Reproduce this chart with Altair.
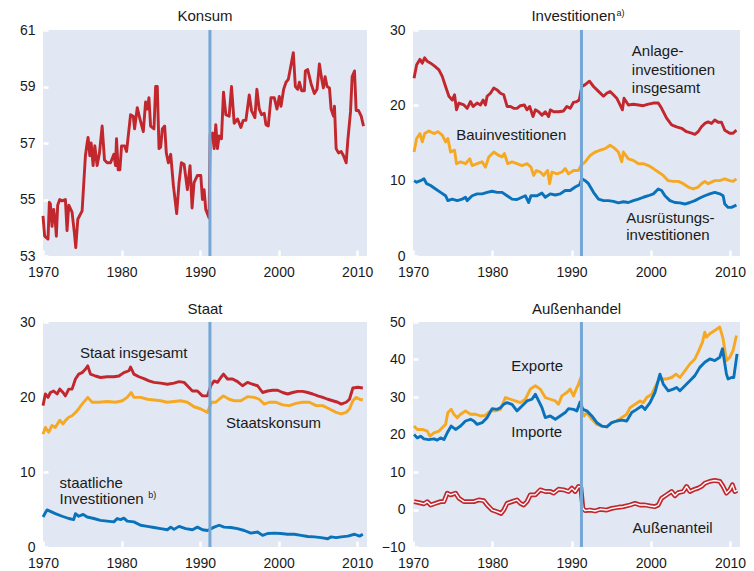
import altair as alt
import pandas as pd

FONT = "Liberation Sans"
BG = "#e1e8f3"
RED = "#c1272d"
ORANGE = "#f7a823"
BLUE = "#0a72ba"
VLINE = "#74a7d5"
TXT = "#1a1a1a"

# ---------------- Konsum ----------------
konsum_year = [1970.0, 1970.21, 1970.64, 1970.81, 1970.94, 1971.15, 1971.36, 1971.57, 1971.70, 1971.87,
               1972.13, 1972.43, 1972.85, 1973.06, 1973.28, 1973.70, 1974.0, 1974.17, 1974.43, 1974.98,
               1975.40, 1975.62, 1975.74, 1975.96, 1976.13, 1976.38, 1976.60, 1976.89, 1977.19, 1977.53,
               1977.83, 1978.17, 1978.60, 1979.02, 1979.23, 1979.36, 1979.57, 1979.79, 1980.0, 1980.38,
               1980.64, 1981.15, 1981.49, 1981.66, 1982.0, 1982.34, 1982.77, 1983.06, 1983.28, 1983.49,
               1983.70, 1984.13, 1984.34, 1984.55, 1984.77, 1984.98, 1985.19, 1985.49, 1985.70, 1985.96,
               1986.26, 1986.60, 1987.02, 1987.32, 1987.62, 1987.96, 1988.38, 1988.72, 1988.98, 1989.23,
               1989.66, 1990.09, 1990.30, 1990.51, 1990.72, 1991.15, 1991.28, 1991.57, 1991.79, 1992.0,
               1992.21, 1992.43, 1992.72, 1992.98, 1993.28, 1993.70, 1994.0, 1994.34, 1994.77, 1995.19,
               1995.49, 1995.83, 1996.26, 1996.55, 1996.98, 1997.23, 1997.53, 1997.83, 1998.17, 1998.38,
               1998.68, 1999.02, 1999.45, 1999.79, 2000.09, 2000.30, 2000.64, 2000.94, 2001.23, 2001.57,
               2001.87, 2002.13, 2002.43, 2002.64, 2002.94, 2003.28, 2003.40, 2003.70, 2004.13, 2004.55,
               2004.89, 2005.19, 2005.49, 2005.70, 2005.91, 2006.17, 2006.47, 2006.68, 2006.98, 2007.11,
               2007.32, 2007.62, 2007.96, 2008.26, 2008.60, 2008.81, 2009.15, 2009.36, 2009.66, 2009.87,
               2010.17, 2010.51, 2010.81]
konsum_val = [54.42, 53.7, 53.6, 54.9, 54.85, 54.05, 54.65, 54.2, 53.7, 54.8,
              55.0, 54.95, 55.0, 53.9, 54.8, 54.55, 53.8, 53.3, 54.3, 54.6,
              56.55, 57.0, 57.2, 56.55, 57.0, 56.2, 56.9, 56.2, 56.65, 57.6,
              56.4, 56.3, 56.3, 56.6, 56.2, 57.15, 56.05, 56.05, 56.9, 56.9,
              56.7, 58.0, 57.95, 57.5, 58.25, 57.85, 57.4, 58.45, 58.2, 58.6,
              57.6, 57.5, 59.0, 59.0, 56.8, 56.85, 57.5, 57.6, 56.65, 56.3,
              56.6, 55.5, 54.5, 55.6, 56.3, 56.25, 55.35, 56.2, 54.7, 55.6,
              55.85, 55.85, 55.0, 55.35, 54.65, 54.35, 57.3, 57.35, 56.8, 57.65,
              56.8, 57.25, 57.15, 58.8, 58.0, 57.95, 59.0, 57.7, 57.85, 57.55,
              57.8, 57.8, 58.7, 58.15, 57.9, 58.9, 58.2, 58.0, 58.05, 57.65,
              57.6, 58.6, 58.6, 58.2, 58.65, 58.3, 58.9, 59.15, 59.25, 59.75,
              60.2, 59.0, 58.9, 59.15, 58.85, 58.85, 59.55, 59.6, 59.1, 58.75,
              58.9, 59.8, 59.25, 58.95, 59.35, 59.0, 58.95, 58.2, 57.95, 58.3,
              56.8, 56.65, 56.7, 56.55, 56.3, 57.1, 58.1, 59.35, 59.55, 58.15,
              58.15, 57.95, 57.6]

# ---------------- Investitionen ----------------
anlage_year = [1970.13, 1970.46, 1970.88, 1971.17, 1971.47, 1971.80, 1972.22, 1972.73, 1973.27, 1973.69,
               1974.11, 1974.53, 1974.95, 1975.24, 1975.49, 1975.79, 1976.42, 1976.83, 1977.25, 1977.59,
               1978.09, 1978.51, 1978.85, 1979.14, 1979.35, 1979.77, 1980.19, 1980.61, 1981.03, 1981.45,
               1981.87, 1982.29, 1982.70, 1983.12, 1983.54, 1984.05, 1984.38, 1984.72, 1985.14, 1985.43,
               1985.85, 1986.27, 1986.69, 1987.11, 1987.32, 1987.74, 1988.36, 1988.99, 1989.41, 1989.83,
               1990.25, 1990.67, 1990.96, 1991.30, 1991.72, 1992.26, 1992.77, 1993.40, 1994.03, 1994.44,
               1994.86, 1995.28, 1995.70, 1996.12, 1996.42, 1996.62, 1997.17, 1997.80, 1998.43, 1999.06,
               1999.69, 2000.32, 2000.94, 2001.36, 2001.99, 2002.62, 2003.25, 2003.88, 2004.51, 2005.14,
               2005.56, 2005.97, 2006.39, 2006.81, 2007.23, 2007.65, 2008.07, 2008.49, 2008.91, 2009.33,
               2009.96, 2010.38, 2010.80]
anlage_val = [23.6, 25.4, 26.1, 25.6, 26.3, 25.85, 25.6, 25.2, 24.7, 23.85,
              22.5, 21.2, 20.7, 21.4, 19.4, 20.3, 20.05, 19.6, 20.5, 19.85,
              20.3, 20.05, 20.7, 20.05, 21.2, 21.6, 22.3, 22.05, 21.6, 21.4,
              19.85, 19.85, 19.6, 19.6, 19.95, 20.05, 19.4, 19.85, 18.5, 19.4,
              19.15, 18.7, 19.15, 18.5, 19.4, 19.15, 19.15, 19.25, 19.85, 19.6,
              20.4, 20.5, 20.7, 22.5, 22.75, 23.2, 22.5, 21.85, 21.2, 21.6,
              21.85, 21.4, 20.95, 20.05, 19.4, 20.95, 20.05, 20.15, 20.05, 19.95,
              20.15, 20.3, 20.3, 19.6, 18.3, 17.4, 17.15, 16.95, 16.5, 16.3,
              16.15, 16.5, 17.15, 17.6, 17.8, 17.6, 18.05, 17.75, 17.75, 16.7,
              16.3, 16.3, 16.7]

bau_year = [1970.13, 1970.46, 1970.88, 1971.17, 1971.47, 1972.01, 1972.64, 1973.14, 1973.69, 1974.11,
            1974.40, 1974.74, 1975.24, 1975.49, 1976.0, 1976.62, 1977.17, 1977.46, 1978.09, 1978.72,
            1979.14, 1979.56, 1980.19, 1980.82, 1981.24, 1981.53, 1981.95, 1982.49, 1983.12, 1983.75,
            1984.38, 1984.88, 1985.22, 1985.56, 1986.06, 1986.48, 1986.98, 1987.23, 1987.53, 1988.16,
            1988.78, 1989.20, 1989.62, 1990.25, 1990.88, 1991.17, 1991.72, 1992.35, 1992.98, 1993.61,
            1994.24, 1994.86, 1995.37, 1995.91, 1996.33, 1996.54, 1997.17, 1997.80, 1998.43, 1999.06,
            1999.69, 2000.32, 2000.94, 2001.57, 2002.20, 2002.83, 2003.46, 2004.09, 2004.72, 2005.35,
            2005.97, 2006.39, 2006.81, 2007.23, 2007.65, 2008.07, 2008.70, 2009.33, 2009.96, 2010.38,
            2010.80]
bau_val = [13.8, 15.6, 16.25, 15.15, 16.25, 16.6, 16.25, 16.5, 16.05, 15.15,
           15.6, 13.8, 14.05, 12.25, 12.5, 12.25, 12.9, 12.0, 12.25, 12.5,
           11.8, 13.15, 13.8, 13.35, 13.15, 13.6, 12.25, 12.5, 12.25, 12.0,
           12.25, 11.8, 10.7, 11.35, 11.15, 10.7, 11.35, 9.6, 11.15, 10.9,
           11.15, 11.6, 10.9, 11.35, 11.35, 12.0, 12.5, 13.35, 13.8, 14.05,
           14.25, 14.7, 14.35, 13.8, 12.5, 13.8, 12.9, 12.7, 12.25, 12.25,
           12.0, 11.6, 11.15, 10.7, 10.0, 9.9, 9.9, 9.6, 9.15, 8.9,
           9.15, 9.6, 9.9, 9.6, 9.8, 10.0, 10.0, 10.25, 10.0, 9.9,
           10.25]

ausr_year = [1970.13, 1970.46, 1970.96, 1971.38, 1971.72, 1972.22, 1972.85, 1973.48, 1974.11, 1974.40,
             1974.95, 1975.58, 1976.21, 1976.62, 1976.83, 1977.46, 1978.09, 1978.72, 1979.35, 1979.98,
             1980.61, 1981.24, 1981.87, 1982.49, 1983.12, 1983.75, 1984.17, 1984.59, 1984.88, 1985.64,
             1986.27, 1986.69, 1987.32, 1987.95, 1988.57, 1989.20, 1989.83, 1990.46, 1991.01, 1991.30,
             1991.72, 1992.14, 1992.77, 1993.40, 1994.03, 1994.65, 1995.28, 1995.91, 1996.54, 1997.17,
             1997.80, 1998.43, 1999.06, 1999.69, 2000.32, 2000.94, 2001.36, 2001.78, 2002.41, 2003.04,
             2003.67, 2004.30, 2004.93, 2005.56, 2006.18, 2006.81, 2007.44, 2008.07, 2008.70, 2009.12,
             2009.33, 2009.75, 2010.17, 2010.80]
ausr_val = [10.0, 9.8, 10.0, 10.25, 9.6, 9.35, 8.9, 8.45, 8.0, 7.35,
            7.55, 7.35, 7.55, 7.8, 7.35, 8.0, 8.25, 8.25, 8.45, 8.6,
            8.45, 8.45, 8.0, 7.55, 7.5, 7.8, 8.0, 7.1, 8.0, 8.0,
            8.35, 7.8, 8.25, 8.1, 8.25, 8.7, 8.7, 9.15, 9.45, 10.25,
            10.0, 9.6, 8.45, 7.55, 7.35, 7.35, 7.25, 7.05, 7.2, 7.1,
            7.35, 7.55, 7.8, 8.0, 8.25, 8.9, 8.7, 8.0, 7.35, 7.1,
            7.05, 6.9, 7.1, 7.35, 7.7, 8.0, 8.25, 8.45, 8.25, 8.0,
            6.9, 6.45, 6.45, 6.75]

# ---------------- Staat ----------------
staat_year = [1970.0, 1970.30, 1970.64, 1970.94, 1971.36, 1971.79, 1972.13, 1972.55, 1972.85, 1973.28,
              1973.70, 1974.13, 1974.55, 1974.98, 1975.40, 1975.70, 1976.04, 1976.68, 1977.32, 1978.17,
              1979.02, 1979.66, 1980.30, 1980.94, 1981.15, 1981.57, 1982.21, 1982.85, 1983.49, 1984.13,
              1984.98, 1985.83, 1986.68, 1987.32, 1987.96, 1988.38, 1989.02, 1989.66, 1990.30, 1990.94,
              1991.36, 1991.79, 1992.21, 1992.64, 1992.98, 1993.49, 1994.13, 1994.77, 1995.40, 1996.04,
              1996.68, 1997.32, 1997.96, 1998.60, 1999.23, 1999.87, 2000.51, 2001.15, 2001.79, 2002.43,
              2003.06, 2003.70, 2004.34, 2004.98, 2005.62, 2006.26, 2006.89, 2007.53, 2007.96, 2008.60,
              2009.02, 2009.45, 2010.09, 2010.72]
staat_val = [18.85, 20.4, 19.95, 20.6, 20.8, 20.4, 21.05, 20.6, 20.15, 21.05,
             21.05, 22.4, 23.05, 23.25, 23.7, 24.15, 23.05, 22.8, 22.6, 22.7,
             22.7, 22.8, 23.25, 23.5, 24.0, 23.05, 22.7, 22.45, 22.15, 21.95,
             21.85, 21.7, 21.85, 22.05, 21.95, 21.5, 20.8, 20.8, 20.15, 20.15,
             21.5, 22.15, 21.95, 22.6, 23.05, 22.4, 22.4, 22.05, 21.5, 21.95,
             21.7, 21.5, 20.6, 20.8, 20.9, 20.9, 20.6, 20.4, 20.6, 20.75,
             20.75, 20.6, 20.4, 20.15, 19.95, 19.7, 19.5, 19.3, 19.05, 19.3,
             19.7, 21.2, 21.3, 21.2]

skons_year = [1970.0, 1970.30, 1970.72, 1971.15, 1971.57, 1972.13, 1972.55, 1972.85, 1973.28, 1973.70,
              1974.34, 1974.98, 1975.70, 1976.26, 1977.11, 1978.17, 1979.23, 1980.09, 1980.72, 1981.23,
              1981.57, 1982.43, 1983.28, 1984.13, 1984.98, 1985.83, 1986.68, 1987.53, 1988.38, 1989.23,
              1990.09, 1990.94, 1991.45, 1992.0, 1992.43, 1992.98, 1993.70, 1994.34, 1995.19, 1996.04,
              1996.89, 1997.53, 1998.17, 1998.81, 1999.66, 2000.51, 2001.36, 2002.21, 2003.06, 2003.91,
              2004.77, 2005.62, 2006.47, 2007.32, 2007.96, 2008.60, 2009.02, 2009.45, 2009.87, 2010.30,
              2010.72]
skons_val = [15.05, 15.95, 15.3, 16.2, 15.95, 16.9, 16.4, 16.85, 17.3, 17.5,
             18.15, 19.05, 19.95, 19.3, 19.3, 19.4, 19.3, 19.5, 19.95, 20.6,
             19.95, 19.95, 19.7, 19.6, 19.5, 19.3, 19.4, 19.5, 19.3, 18.7,
             18.4, 17.95, 19.3, 19.3, 19.7, 20.15, 19.7, 19.5, 19.5, 20.05,
             19.95, 19.7, 19.05, 19.3, 19.3, 18.95, 18.85, 19.15, 19.3, 19.3,
             18.85, 18.85, 18.4, 17.95, 17.75, 17.95, 18.4, 19.5, 19.95, 19.7,
             19.6]

sinv_year = [1970.0, 1970.51, 1970.94, 1971.57, 1972.43, 1973.28, 1973.91, 1974.13, 1974.55, 1975.11,
             1975.62, 1976.47, 1977.32, 1978.17, 1979.02, 1979.45, 1979.87, 1980.30, 1980.72, 1981.57,
             1982.43, 1983.28, 1984.13, 1984.98, 1985.83, 1986.26, 1986.68, 1987.32, 1988.17, 1989.02,
             1989.66, 1990.30, 1990.94, 1991.79, 1992.43, 1993.06, 1993.91, 1994.77, 1995.62, 1996.47,
             1997.32, 1997.96, 1998.60, 1999.45, 2000.30, 2001.15, 2002.0, 2002.85, 2003.70, 2004.55,
             2005.40, 2006.26, 2006.68, 2007.32, 2007.96, 2008.81, 2009.66, 2010.30, 2010.72]
sinv_val = [4.0, 4.95, 4.75, 4.45, 4.1, 3.8, 3.65, 4.45, 4.1, 4.35,
            4.0, 3.8, 3.55, 3.45, 3.35, 3.8, 3.65, 3.85, 3.45, 3.35,
            2.9, 2.75, 2.6, 2.45, 2.3, 2.65, 2.35, 2.75, 2.45, 2.3,
            2.65, 2.3, 2.2, 2.65, 2.9, 2.65, 2.6, 2.45, 2.2, 1.85,
            2.0, 1.55, 1.8, 1.85, 1.8, 1.7, 1.7, 1.55, 1.4, 1.35,
            1.25, 1.1, 1.35, 1.25, 1.35, 1.45, 1.7, 1.45, 1.7]

# ---------------- Aussenhandel ----------------
exp_year = [1970.13, 1970.55, 1971.17, 1971.80, 1972.14, 1972.64, 1973.27, 1973.69, 1974.11, 1974.40,
            1974.82, 1975.16, 1975.58, 1976.0, 1976.62, 1977.25, 1977.88, 1978.51, 1979.14, 1979.77,
            1980.40, 1981.03, 1981.66, 1982.29, 1982.91, 1983.54, 1984.17, 1984.80, 1985.43, 1986.06,
            1986.69, 1987.32, 1987.95, 1988.36, 1988.78, 1989.41, 1989.83, 1990.25, 1990.59, 1990.88,
            1991.17, 1991.30, 1991.59, 1991.93, 1992.56, 1993.19, 1993.82, 1994.44, 1995.07, 1995.70,
            1996.33, 1996.96, 1997.38, 1998.01, 1998.64, 1999.06, 1999.48, 2000.11, 2000.73, 2001.07,
            2001.36, 2001.99, 2002.62, 2003.17, 2003.67, 2004.30, 2004.93, 2005.56, 2005.97, 2006.52,
            2006.81, 2007.02, 2007.44, 2008.07, 2008.70, 2009.12, 2009.54, 2009.96, 2010.38, 2010.80]
exp_val = [22.25, 21.35, 21.35, 20.9, 19.55, 20.45, 20.9, 21.8, 22.7, 25.85,
           26.7, 25.4, 24.5, 25.4, 26.3, 25.4, 25.4, 24.95, 25.1, 26.3,
           26.3, 26.7, 29.85, 29.4, 28.95, 28.5, 29.4, 32.1, 33.0, 32.1,
           29.85, 29.4, 28.95, 28.05, 30.3, 31.2, 32.1, 30.3, 32.1, 33.45,
           35.2, 26.3, 24.95, 25.85, 24.05, 22.7, 22.25, 22.05, 23.15, 23.6,
           24.5, 25.4, 27.15, 28.05, 28.95, 28.5, 29.85, 30.75, 33.45, 34.8,
           34.8, 34.8, 35.2, 36.1, 35.2, 37.0, 38.8, 40.15, 41.95, 44.65,
           47.3, 45.95, 46.85, 47.75, 48.65, 45.5, 39.7, 40.6, 42.4, 46.4]

imp_year = [1970.13, 1970.55, 1970.96, 1971.38, 1972.01, 1972.64, 1973.06, 1973.48, 1973.90, 1974.32,
            1974.82, 1975.37, 1976.0, 1976.62, 1977.25, 1977.67, 1978.09, 1978.72, 1979.35, 1979.98,
            1980.61, 1981.03, 1981.45, 1981.87, 1982.49, 1983.12, 1983.75, 1984.38, 1985.01, 1985.43,
            1985.85, 1986.27, 1986.69, 1987.32, 1987.95, 1988.57, 1989.20, 1989.62, 1990.25, 1990.67,
            1991.09, 1991.43, 1991.93, 1992.56, 1993.19, 1993.82, 1994.44, 1995.07, 1995.70, 1996.33,
            1996.96, 1997.59, 1998.22, 1998.85, 1999.27, 1999.90, 2000.52, 2001.15, 2001.57, 2002.20,
            2002.83, 2003.25, 2003.67, 2004.30, 2004.93, 2005.56, 2006.18, 2006.81, 2007.44, 2008.07,
            2008.70, 2009.04, 2009.54, 2009.75, 2010.17, 2010.46, 2010.88]
imp_val = [20.0, 19.1, 19.55, 18.85, 18.65, 18.85, 18.5, 19.1, 18.65, 20.45,
           22.25, 21.35, 22.25, 23.6, 24.05, 23.6, 22.7, 23.15, 24.5, 26.9,
           26.7, 27.15, 28.05, 28.5, 28.05, 26.3, 27.6, 28.95, 29.4, 30.75,
           28.95, 27.15, 24.5, 24.95, 24.05, 24.95, 25.85, 26.9, 26.7, 26.3,
           28.7, 26.7, 26.3, 24.95, 23.15, 22.25, 22.05, 23.15, 23.6, 23.85,
           23.6, 25.85, 26.7, 27.6, 26.7, 28.5, 31.2, 36.1, 33.45, 31.65,
           32.1, 32.55, 31.65, 33.0, 34.35, 35.7, 37.9, 39.25, 40.15, 39.7,
           40.6, 42.85, 36.1, 34.8, 35.2, 35.2, 41.5]

aussen_year = [1970.13, 1970.75, 1971.38, 1971.80, 1972.22, 1972.85, 1973.48, 1973.90, 1974.32, 1974.74,
               1975.37, 1975.79, 1976.42, 1977.04, 1977.67, 1978.30, 1978.93, 1979.35, 1979.98, 1980.61,
               1981.11, 1981.45, 1981.87, 1982.49, 1983.12, 1983.54, 1983.96, 1984.38, 1984.80, 1985.43,
               1986.06, 1986.69, 1987.32, 1987.74, 1988.36, 1988.99, 1989.62, 1990.04, 1990.46, 1990.88,
               1991.17, 1991.43, 1991.72, 1992.35, 1992.98, 1993.61, 1994.44, 1995.07, 1995.91, 1996.54,
               1997.38, 1998.01, 1998.64, 1999.27, 1999.90, 2000.52, 2000.94, 2001.36, 2001.99, 2002.62,
               2003.04, 2003.46, 2004.09, 2004.51, 2004.93, 2005.35, 2005.97, 2006.39, 2006.81, 2007.44,
               2008.07, 2008.70, 2009.12, 2009.54, 2009.96, 2010.29, 2010.59, 2010.88]
aussen_val = [2.1, 1.85, 1.5, 2.1, 1.2, 1.65, 2.1, 2.1, 4.35, 3.9,
              4.35, 3.0, 2.1, 2.1, 2.1, 2.55, 2.35, 1.2, -0.15, -0.6,
              -1.05, -0.15, 1.65, 2.1, 2.55, 1.65, 1.2, 2.1, 3.9, 3.9,
              5.25, 4.8, 4.8, 4.35, 5.4, 5.25, 4.8, 5.7, 4.8, 6.15,
              5.95, 0.3, -0.3, -0.15, -0.4, 0.05, -0.15, 0.3, 0.6, 0.75,
              1.2, 1.65, 1.2, 1.2, 0.95, 0.75, 1.2, 3.0, 3.9, 4.8,
              3.65, 4.5, 4.8, 6.15, 4.8, 5.25, 5.7, 6.15, 7.0, 7.5,
              7.75, 7.5, 6.15, 4.35, 5.25, 6.6, 4.8, 5.1]

reunification = [1991.25]
x_ticks = [1970, 1980, 1990, 2000, 2010]

# annotation labels (text, year, value)
inv_labels = [("Bauinvestitionen", 1975.45, 16.0), ("Anlage-", 1997.6, 27.2),
              ("investitionen", 1997.6, 24.65), ("insgesamt", 1997.6, 22.35),
              ("Ausrüstungs-", 1996.9, 5.05), ("investitionen", 1996.9, 2.85)]
staat_labels = [("Staat insgesamt", 1974.7, 25.85), ("Staatskonsum", 1993.3, 16.5),
                ("staatliche", 1972.1, 8.6), ("Investitionen", 1972.1, 6.45)]
staat_sup = [("b)", 1983.4, 6.95)]
handel_labels = [("Exporte", 1982.4, 38.4), ("Importe", 1982.4, 20.7), ("Außenanteil", 1997.7, -5.05)]

for a, b in [(konsum_year, konsum_val), (anlage_year, anlage_val), (bau_year, bau_val),
             (ausr_year, ausr_val), (staat_year, staat_val), (skons_year, skons_val),
             (sinv_year, sinv_val), (exp_year, exp_val), (imp_year, imp_val),
             (aussen_year, aussen_val)]:
    assert len(a) == len(b), (len(a), len(b))


def make_panel(series, ydomain, yticks, w, h, title, title_y, labels=None, sup=None,
               title_sup=None, double=None):
    X = alt.X("year:Q", scale=alt.Scale(domain=[1970, 2011.25], nice=False, zero=False),
              axis=alt.Axis(values=x_ticks, format="d", domain=False, grid=False,
                            tickColor="white", tickSize=6, tickWidth=2.5, offset=-6,
                            labelPadding=9, labelFontSize=14, labelFont=FONT, labelColor=TXT,
                            labelFlush=False, title=None))
    Y = alt.Y("value:Q", scale=alt.Scale(domain=ydomain, nice=False, zero=False),
              axis=alt.Axis(values=yticks, domain=False, grid=False, tickColor="white",
                            tickSize=5, tickWidth=2.5, offset=-5, labelPadding=8,
                            labelFontSize=14, labelFont=FONT, labelColor=TXT,
                            minExtent=34, maxExtent=34, title=None))
    layers = []
    for xs, ys, color in series:
        df = pd.DataFrame({"year": xs, "value": ys})
        layers.append(alt.Chart(df).mark_line(color=color, strokeWidth=2.9, strokeJoin="round")
                      .encode(x=X, y=Y))
    if double is not None:
        xs, ys = double
        df = pd.DataFrame({"year": xs, "value": ys})
        layers.append(alt.Chart(df).mark_line(color=RED, strokeWidth=4.8, strokeJoin="round")
                      .encode(x=X, y=Y))
        layers.append(alt.Chart(df).mark_line(color="white", strokeWidth=1.4, strokeJoin="round")
                      .encode(x=X, y=Y))
    rule_df = pd.DataFrame({"year": reunification})
    layers.append(alt.Chart(rule_df).mark_rule(color=VLINE, strokeWidth=3).encode(x=X))
    if labels:
        ldf = pd.DataFrame(labels, columns=["label", "year", "value"])
        layers.append(alt.Chart(ldf).mark_text(align="left", baseline="middle", fontSize=15,
                                               font=FONT, color=TXT)
                      .encode(x=X, y=Y, text="label:N"))
    if sup:
        sdf = pd.DataFrame(sup, columns=["label", "year", "value"])
        layers.append(alt.Chart(sdf).mark_text(align="left", baseline="middle", fontSize=9,
                                               font=FONT, color=TXT)
                      .encode(x=X, y=Y, text="label:N"))
    tdf = pd.DataFrame({"t": [title]})
    if title_sup:
        layers.append(alt.Chart(tdf).mark_text(align="center", baseline="middle", fontSize=15,
                                               font=FONT, color=TXT)
                      .encode(text="t:N", x=alt.value(w / 2 - 3), y=alt.value(title_y)))
        sdf2 = pd.DataFrame({"t": [title_sup]})
        layers.append(alt.Chart(sdf2).mark_text(align="left", baseline="middle", fontSize=9,
                                                font=FONT, color=TXT)
                      .encode(text="t:N", x=alt.value(w / 2 + 40), y=alt.value(title_y - 3)))
    else:
        layers.append(alt.Chart(tdf).mark_text(align="center", baseline="middle", fontSize=15,
                                               font=FONT, color=TXT)
                      .encode(text="t:N", x=alt.value(w / 2), y=alt.value(title_y)))
    return alt.layer(*layers).properties(width=w, height=h)


p1 = make_panel([(konsum_year, konsum_val, RED)], [53, 61], [53, 55, 57, 59, 61],
                324, 226, "Konsum", -14)
p2 = make_panel([(anlage_year, anlage_val, RED), (bau_year, bau_val, ORANGE),
                 (ausr_year, ausr_val, BLUE)], [0, 30], [0, 10, 20, 30],
                327, 226, "Investitionen", -14, labels=inv_labels, title_sup="a)")
p3 = make_panel([(staat_year, staat_val, RED), (skons_year, skons_val, ORANGE),
                 (sinv_year, sinv_val, BLUE)], [0, 30], [0, 10, 20, 30],
                324, 225, "Staat", -13, labels=staat_labels, sup=staat_sup)
p4 = make_panel([(exp_year, exp_val, ORANGE), (imp_year, imp_val, BLUE)], [-10, 50],
                [-10, 0, 10, 20, 30, 40, 50], 327, 225, "Außenhandel", -13,
                labels=handel_labels, double=(aussen_year, aussen_val))

chart = (alt.concat(p1, p2, p3, p4, columns=2, bounds="flush",
                    spacing={"row": 66, "column": 46})
         .properties(padding={"left": 6, "top": 1, "right": 0, "bottom": 0},
                     background="white")
         .configure_view(stroke=None, fill=BG))

chart.save("out.html", embed_options={"renderer": "svg", "actions": False})
